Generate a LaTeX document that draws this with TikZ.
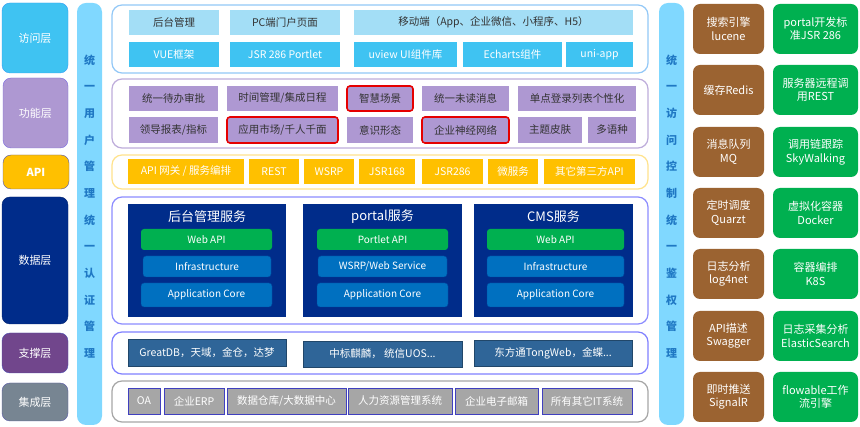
\documentclass[tikz,border=0pt]{standalone}
\usepackage{fontspec}
\setmainfont{Noto Sans CJK SC}
\definecolor{accL}{HTML}{A3DEF6}
\definecolor{accD}{HTML}{3FC3F2}
\definecolor{funcP}{HTML}{AE98D2}
\definecolor{apiY}{HTML}{FFC000}
\definecolor{navy}{HTML}{002C8A}
\definecolor{gr}{HTML}{00B050}
\definecolor{midb}{HTML}{0070C0}
\definecolor{steel}{HTML}{2F6598}
\definecolor{greyb}{HTML}{A6A6A6}
\definecolor{brown}{HTML}{9B6331}
\definecolor{vbar}{HTML}{80D8FF}
\definecolor{vtext}{HTML}{1F78C4}
\definecolor{supL}{HTML}{71468C}
\definecolor{intL}{HTML}{778592}
\newcommand{\Bx}[7]{\node[#1, anchor=north west, minimum width={#4-#2}, minimum height={#5-#3}] (#6) at (#2,#3) {#7};}
\begin{document}
\begin{tikzpicture}[x=1pt,y=-1pt,
  base/.style={inner sep=0pt, outer sep=0pt, align=center, font=\fontsize{10.5}{13}\selectfont},
  layer/.style={base, rounded corners=8pt, text=white, font=\fontsize{11}{13}\selectfont},
  cont/.style={base, rounded corners=10pt, fill=white, line width=1.2pt},
  vb/.style={base, rounded corners=9pt, fill=vbar},
  vt/.style={base, text=vtext, font=\fontsize{11}{26.65}\selectfont\bfseries},
  acc1/.style={base, fill=accL, text=black!80},
  acc2/.style={base, fill=accD, text=white},
  fn/.style={base, fill=funcP, text=black!80},
  fnr/.style={base, fill=funcP, text=black!80, draw=red!90!black, line width=1.6pt, rounded corners=3pt},
  ap/.style={base, fill=apiY, text=white},
  svc/.style={base, fill=navy},
  svct/.style={base, text=white, font=\fontsize{13}{15}\selectfont},
  ing/.style={base, fill=gr, text=white, rounded corners=3pt, font=\fontsize{10}{12}\selectfont},
  inb/.style={base, fill=midb, draw=navy!60!midb, text=white, rounded corners=3pt, font=\fontsize{10}{12}\selectfont},
  sup/.style={base, fill=steel, draw=steel!70!black, text=white},
  itg/.style={base, fill=greyb, draw=blue!50!gray, line width=0.8pt, text=white},
  rbr/.style={base, fill=brown, text=white, rounded corners=7pt, font=\fontsize{11}{13.5}\selectfont},
  rgr/.style={base, fill=gr, text=white, rounded corners=7pt, font=\fontsize{11}{13.5}\selectfont}
]
\useasboundingbox (0,0) rectangle (860,427);
\fill[white] (0,0) rectangle (860,427);

% left layer labels
\Bx{layer, fill=accD, draw=accD!80!blue}{2}{3}{68}{73}{L1}{访问层}
\Bx{layer, fill=funcP, draw=blue!30!funcP}{3}{78}{68}{148}{L2}{功能层}
\Bx{layer, fill=apiY, draw=gray!70!blue, font=\fontsize{11}{13}\selectfont\bfseries}{3}{155}{69}{189}{L3}{API}
\Bx{layer, fill=navy, draw=navy!80!black}{2}{197}{68}{324}{L4}{数据层}
\Bx{layer, fill=supL, draw=blue!40!gray}{2}{333}{68}{373}{L5}{支撑层}
\Bx{layer, fill=intL, draw=blue!30!gray}{2}{383}{68}{421}{L6}{集成层}

% vertical bars
\Bx{vb}{77}{3}{102}{425}{VB1}{}
\node[vt] (VT1) at (89.5,206.5) {统\\一\\用\\户\\管\\理\\统\\一\\认\\证\\管\\理};
\Bx{vb}{659}{3}{684}{425}{VB2}{}
\node[vt] (VT2) at (671.5,206.5) {统\\一\\访\\问\\控\\制\\统\\一\\鉴\\权\\管\\理};

% containers
\Bx{cont, draw=accL!90!blue}{112}{5}{648}{73}{C1}{}
\Bx{cont, draw=funcP!80!white}{112}{79}{648}{148}{C2}{}
\Bx{cont, draw=apiY!45!white}{112}{155}{648}{189}{C3}{}
\Bx{cont, draw=blue!45!white}{112}{197}{648}{324}{C4}{}
\Bx{cont, draw=blue!50!white}{112}{332}{648}{374}{C5}{}
\Bx{cont, draw=greyb}{112}{381}{648}{422}{C6}{}

% access layer
\Bx{acc1}{129}{10}{219}{35}{a11}{后台管理}
\Bx{acc1}{230}{10}{340}{35}{a12}{PC端门户页面}
\Bx{acc1}{354}{10}{633}{35}{a13}{移动端（App、企业微信、小程序、H5）}
\Bx{acc2}{129}{42}{219}{67}{a21}{VUE框架}
\Bx{acc2}{230}{42}{340}{67}{a22}{JSR 286 Portlet}
\Bx{acc2}{354}{42}{457}{67}{a23}{uview UI组件库}
\Bx{acc2}{463}{42}{562}{67}{a24}{Echarts组件}
\Bx{acc2}{566}{42}{633}{67}{a25}{uni-app}

% function layer
\Bx{fn}{129}{86}{218}{111}{f11}{统一待办审批}
\Bx{fn}{227}{86}{338}{111}{f12}{时间管理/集成日程}
\Bx{fnr}{347}{86}{413}{111}{f13}{智慧场景}
\Bx{fn}{422}{86}{509}{111}{f14}{统一未读消息}
\Bx{fn}{518}{86}{636}{111}{f15}{单点登录列表个性化}
\Bx{fn}{129}{117}{218}{143}{f21}{领导报表/指标}
\Bx{fnr}{227}{117}{338}{143}{f22}{应用市场/千人千面}
\Bx{fn}{347}{117}{413}{143}{f23}{意识形态}
\Bx{fnr}{422}{117}{509}{143}{f24}{企业神经网络}
\Bx{fn}{518}{117}{582}{143}{f25}{主题皮肤}
\Bx{fn}{588}{117}{636}{143}{f26}{多语种}

% api layer
\Bx{ap}{128}{159}{244}{184}{p1}{API 网关 / 服务编排}
\Bx{ap}{249}{159}{299}{184}{p2}{REST}
\Bx{ap}{304}{159}{354}{184}{p3}{WSRP}
\Bx{ap}{359}{159}{415}{184}{p4}{JSR168}
\Bx{ap}{422}{159}{483}{184}{p5}{JSR286}
\Bx{ap}{488}{159}{538}{184}{p6}{微服务}
\Bx{ap}{544}{159}{635}{184}{p7}{其它第三方API}

% data layer services
\Bx{svc}{128}{204}{286}{317}{s1}{}
\node[svct] (s1t) at (207,217) {后台管理服务};
\Bx{ing}{141}{229}{272}{250}{s1a}{Web API}
\Bx{inb}{143}{256}{271}{277}{s1b}{Infrastructure}
\Bx{inb}{141}{283}{272}{307}{s1c}{Application Core}

\Bx{svc}{303}{204}{462}{317}{s2}{}
\node[svct] (s2t) at (382.5,217) {portal服务};
\Bx{ing}{317}{229}{448}{250}{s2a}{Portlet API}
\Bx{inb}{318}{256}{447}{277}{s2b}{WSRP/Web Service}
\Bx{inb}{317}{283}{448}{307}{s2c}{Application Core}

\Bx{svc}{474}{204}{633}{317}{s3}{}
\node[svct] (s3t) at (553.5,217) {CMS服务};
\Bx{ing}{487}{229}{624}{250}{s3a}{Web API}
\Bx{inb}{487}{256}{624}{277}{s3b}{Infrastructure}
\Bx{inb}{487}{283}{624}{307}{s3c}{Application Core}

% support layer
\Bx{sup}{128}{339}{286}{366}{u1}{GreatDB，天域，金仓，达梦}
\Bx{sup}{303}{341}{462}{367}{u2}{中标麒麟， 统信UOS...}
\Bx{sup}{474}{340}{632}{366}{u3}{东方通TongWeb，金蝶...}

% integration layer
\Bx{itg}{128}{388}{160}{414}{i1}{OA}
\Bx{itg}{164}{388}{224}{414}{i2}{企业ERP}
\Bx{itg}{227}{388}{346}{414}{i3}{数据仓库/大数据中心}
\Bx{itg}{348}{388}{452}{414}{i4}{人力资源管理系统}
\Bx{itg}{455}{388}{538}{414}{i5}{企业电子邮箱}
\Bx{itg}{542}{388}{632}{414}{i6}{所有其它IT系统}

% right side
\Bx{rbr}{693}{4}{764}{54}{r11}{搜索引擎\\lucene}
\Bx{rgr}{773}{4}{858}{54}{r12}{portal开发标\\准JSR 286}
\Bx{rbr}{693}{65}{764}{115}{r21}{缓存Redis}
\Bx{rgr}{773}{65}{858}{115}{r22}{服务器远程调\\用REST}
\Bx{rbr}{693}{127}{764}{177}{r31}{消息队列\\MQ}
\Bx{rgr}{773}{127}{858}{177}{r32}{调用链跟踪\\SkyWalking}
\Bx{rbr}{693}{188}{764}{238}{r41}{定时调度\\Quarzt}
\Bx{rgr}{773}{188}{858}{238}{r42}{虚拟化容器\\Docker}
\Bx{rbr}{693}{249}{764}{299}{r51}{日志分析\\log4net}
\Bx{rgr}{773}{249}{858}{299}{r52}{容器编排\\K8S}
\Bx{rbr}{693}{311}{764}{361}{r61}{API描述\\Swagger}
\Bx{rgr}{773}{311}{858}{361}{r62}{日志采集分析\\ElasticSearch}
\Bx{rbr}{693}{372}{764}{422}{r71}{即时推送\\SignalR}
\Bx{rgr}{773}{372}{858}{422}{r72}{flowable工作\\流引擎}
\end{tikzpicture}
\end{document}
